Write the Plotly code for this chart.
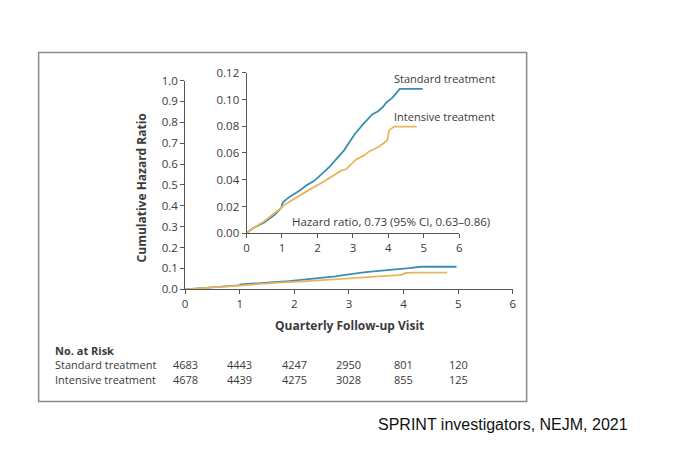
import plotly.graph_objects as go

W, H = 691, 450

# Data
t_std = [0, 0.2, 0.5, 0.8, 0.98, 1.02, 1.2, 1.5, 1.7, 1.9, 2.15, 2.35, 2.55, 2.75, 2.9, 3.05,
         3.27, 3.45, 3.55, 3.7, 3.83, 3.95, 4.1, 4.2, 4.32, 4.97]
v_std = [0, 0.004, 0.008, 0.014, 0.019, 0.023, 0.027, 0.032, 0.036, 0.039, 0.045, 0.050, 0.056,
         0.062, 0.068, 0.074, 0.081, 0.086, 0.089, 0.091, 0.094, 0.098, 0.101, 0.104, 0.108, 0.108]
t_int = [0, 0.2, 0.5, 0.8, 0.98, 1.05, 1.3, 1.51, 1.8, 2.16, 2.4, 2.67, 2.81, 2.95, 3.09, 3.3,
         3.46, 3.6, 3.74, 3.9, 3.97, 4.02, 4.16, 4.8]
v_int = [0, 0.004, 0.009, 0.015, 0.019, 0.021, 0.025, 0.0287, 0.033, 0.0383, 0.042, 0.0468,
         0.048, 0.052, 0.0552, 0.058, 0.0612, 0.063, 0.0649, 0.068, 0.0697, 0.0769, 0.0798, 0.0798]

risk_visits = [0, 1, 2, 3, 4, 5]
risk_std = [4683, 4443, 4247, 2950, 801, 120]
risk_int = [4678, 4439, 4275, 3028, 855, 125]

series_names = ["Standard treatment", "Intensive treatment"]
hr_text = "Hazard ratio, 0.73 (95% CI, 0.63\u20130.86)"
caption = "SPRINT investigators, NEJM, 2021"

BLUE = "#3a8db3"
ORANGE = "#e9b55a"
AX = "#555555"
TXT = "#3a3a3a"
FONT = "Open Sans"

def px(x):
    return x / W

def py(y):
    return 1 - y / H

fig = go.Figure()
for xa, ya in [("x", "y"), ("x2", "y2")]:
    fig.add_trace(go.Scatter(x=t_std, y=v_std, mode="lines", xaxis=xa, yaxis=ya,
                             line=dict(color=BLUE, width=1.8), showlegend=False, hoverinfo="skip"))
    fig.add_trace(go.Scatter(x=t_int, y=v_int, mode="lines", xaxis=xa, yaxis=ya,
                             line=dict(color=ORANGE, width=1.8), showlegend=False, hoverinfo="skip"))

axcommon = dict(showline=True, linecolor=AX, linewidth=1, ticks="outside", ticklen=4,
                tickwidth=1, tickcolor=AX, showgrid=False, zeroline=False,
                tickfont=dict(family=FONT, size=11.5, color=TXT), fixedrange=True)

fig.update_layout(
    width=W, height=H, margin=dict(l=0, r=0, t=0, b=0),
    paper_bgcolor="white", plot_bgcolor="rgba(0,0,0,0)",
    xaxis=dict(domain=[px(184), px(515)], range=[0, 6], dtick=1, anchor="y", **axcommon),
    yaxis=dict(domain=[py(291), py(75)], range=[0, 1.0], dtick=0.1, tickformat=".1f",
               anchor="x", **axcommon),
    xaxis2=dict(domain=[px(246), px(461)], range=[0, 6], dtick=1, anchor="y2", **axcommon),
    yaxis2=dict(domain=[py(233), py(67)], range=[0, 0.12], dtick=0.02, tickformat=".2f",
                anchor="x2", **axcommon),
)

# Frame
fig.add_shape(type="rect", xref="paper", yref="paper", x0=px(36), x1=px(529), y0=py(407), y1=py(46),
              line=dict(color="#8a8a8a", width=1.5), fillcolor="rgba(0,0,0,0)", layer="below")

def text(x, y, s, xref="paper", xanchor="left", size=11, bold=False, angle=0, color=TXT, family=FONT):
    fig.add_annotation(x=x, y=y, xref=xref, yref="paper", text=(f"<b>{s}</b>" if bold else s),
                       showarrow=False, xanchor=xanchor, yanchor="middle", textangle=angle,
                       font=dict(family=family, size=size, color=color))

text(px(140), py(186), "Cumulative Hazard Ratio", xanchor="center", size=12, bold=True, angle=-90)
text(px(350), py(328), "Quarterly Follow-up Visit", xanchor="center", size=12, bold=True)
text(px(393), py(73), series_names[0])
text(px(393), py(112), series_names[1])
text(px(290), py(221), hr_text, size=11.5)

text(px(51), py(354), "No. at Risk", bold=True)
text(px(51), py(369), series_names[0])
text(px(51), py(384), series_names[1])
for v, a, b in zip(risk_visits, risk_std, risk_int):
    text(v, py(369), str(a), xref="x", xanchor="center")
    text(v, py(384), str(b), xref="x", xanchor="center")

text(px(505), py(431), caption, xanchor="center", size=16, color="#111111", family="Liberation Sans")

fig.write_html("out.html", config={"displayModeBar": False},
               post_script="document.body.style.margin='0';document.body.style.padding='0';")
